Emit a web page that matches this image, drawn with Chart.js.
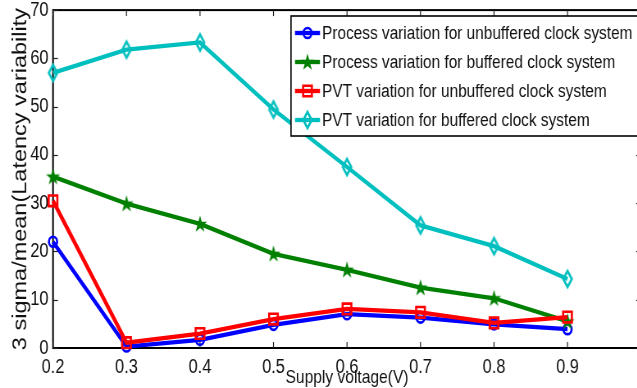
<!DOCTYPE html>
<html>
<head>
<meta charset="utf-8">
<title>Latency variability vs supply voltage</title>
<script src="https://cdn.jsdelivr.net/npm/chart.js@4.4.1/dist/chart.umd.min.js"></script>
<style>
  html, body { margin: 0; padding: 0; background: #fff; overflow: hidden; }
  #wrap { width: 637px; height: 388px; overflow: hidden; position: relative; }
  /* the figure is drawn on a wider canvas and condensed horizontally */
  #chart { display: block; transform: scaleX(0.82); transform-origin: 0 0; }
</style>
</head>
<body>
<div id="wrap"><canvas id="chart" width="800" height="388"></canvas></div>
<script>
// Supply voltage sweep (V)
const voltages = [0.2, 0.3, 0.4, 0.5, 0.6, 0.7, 0.8, 0.9];

// 3 sigma / mean of latency (%) for each configuration
const processUnbuffered = [22.0, 0.3, 1.7, 4.8, 7.0, 6.3, 4.9, 3.9];
const processBuffered   = [35.5, 29.9, 25.7, 19.5, 16.2, 12.5, 10.3, 5.5];
const pvtUnbuffered     = [30.5, 1.1, 3.0, 6.0, 8.1, 7.4, 5.2, 6.4];
const pvtBuffered       = [57.0, 61.8, 63.3, 49.4, 37.5, 25.4, 21.1, 14.3];

const seriesNames = [
  'Process variation for unbuffered clock system',
  'Process variation for buffered clock system',
  'PVT variation for unbuffered clock system',
  'PVT variation for buffered clock system'
];

// Axis ticks
const xTickValues = [0.2, 0.3, 0.4, 0.5, 0.6, 0.7, 0.8, 0.9, 1.0];
const xTickLabels = ['0.2', '0.3', '0.4', '0.5', '0.6', '0.7', '0.8', '0.9', ''];
const yTickValues = [0, 10, 20, 30, 40, 50, 60, 70];

const SQUEEZE = 0.82;            // horizontal condensing applied by CSS
const CANVAS_W = 800;
const FONT = '"Liberation Sans", Arial, Helvetica, sans-serif';

// Marker glyphs
function starMark(color) {
  const c = document.createElement('canvas');
  c.width = 20; c.height = 20;
  const g = c.getContext('2d');
  g.fillStyle = color;
  g.beginPath();
  for (let i = 0; i < 10; i++) {
    const r = i % 2 ? 3.5 : 9;
    const a = -Math.PI / 2 + i * Math.PI / 5;
    g.lineTo(10 + r * Math.cos(a), 10.5 + r * Math.sin(a));
  }
  g.closePath();
  g.fill();
  return c;
}
function diamondMark(color) {
  const c = document.createElement('canvas');
  c.width = 16; c.height = 22;
  const g = c.getContext('2d');
  g.strokeStyle = color;
  g.lineWidth = 2.6;
  g.beginPath();
  g.moveTo(8, 3); g.lineTo(13.2, 11); g.lineTo(8, 19); g.lineTo(2.8, 11);
  g.closePath();
  g.stroke();
  return c;
}

const toPoints = arr => arr.map((v, i) => ({ x: voltages[i], y: v }));

const BLUE = '#0000ff', GREEN = '#008000', RED = '#ff0000', CYAN = '#00bfbf';

const datasets = [
  { label: seriesNames[0], data: toPoints(processUnbuffered), borderColor: BLUE,
    pointStyle: 'circle', pointRadius: 5, pointBorderWidth: 2.6, order: 4 },
  { label: seriesNames[1], data: toPoints(processBuffered), borderColor: GREEN,
    pointStyle: starMark(GREEN), pointRadius: 9, pointBorderWidth: 0, order: 3 },
  { label: seriesNames[2], data: toPoints(pvtUnbuffered), borderColor: RED,
    pointStyle: 'rect', pointRadius: 7.5, pointBorderWidth: 2.6, order: 2 },
  { label: seriesNames[3], data: toPoints(pvtBuffered), borderColor: CYAN,
    pointStyle: diamondMark(CYAN), pointRadius: 9, pointBorderWidth: 0, order: 1 }
].map(d => Object.assign({
  borderWidth: 4.3,
  backgroundColor: 'rgba(0,0,0,0)',
  pointBackgroundColor: 'rgba(0,0,0,0)',
  pointBorderColor: d.borderColor,
  pointHoverRadius: d.pointRadius,
  tension: 0,
  clip: false
}, d));

// Box frame with inward tick marks on all four sides
const frameTicks = {
  id: 'frameTicks',
  beforeDatasetsDraw(chart) {
    const { ctx, chartArea: a, scales: { x, y } } = chart;
    ctx.save();
    ctx.strokeStyle = '#000';
    ctx.lineWidth = 2;
    ctx.strokeRect(a.left, a.top, a.right - a.left, a.bottom - a.top);
    ctx.lineWidth = 1.2;
    ctx.strokeStyle = '#222';
    const len = 6;
    const seg = (x1, y1, x2, y2) => { ctx.beginPath(); ctx.moveTo(x1, y1); ctx.lineTo(x2, y2); ctx.stroke(); };
    x.ticks.forEach(t => {
      const px = x.getPixelForValue(t.value);
      seg(px, a.bottom, px, a.bottom - len);
      seg(px, a.top, px, a.top + len);
    });
    y.ticks.forEach(t => {
      const py = Math.round(y.getPixelForValue(t.value)) + 0.5;
      seg(a.left, py, a.left + len, py);
      seg(a.right, py, a.right - len, py);
    });
    ctx.restore();
  }
};

// Legend box drawn inside the plot, upper right
const boxLegend = {
  id: 'boxLegend',
  afterDraw(chart) {
    const { ctx } = chart;
    const left = 291 / SQUEEZE, top = 16, bottom = 136, right = chart.width + 5;
    const rowY0 = 33, rowGap = 29;
    const lineX0 = 295 / SQUEEZE, lineX1 = 320 / SQUEEZE, textX = 322 / SQUEEZE;
    ctx.save();
    ctx.fillStyle = '#fff';
    ctx.fillRect(left, top, right - left, bottom - top);
    ctx.strokeStyle = '#000';
    ctx.lineWidth = 1.6;
    ctx.strokeRect(left, top, right - left, bottom - top);
    chart.data.datasets.forEach((ds, i) => {
      const yy = rowY0 + i * rowGap;
      ctx.strokeStyle = ds.borderColor;
      ctx.lineWidth = ds.borderWidth;
      ctx.beginPath();
      ctx.moveTo(lineX0, yy);
      ctx.lineTo(lineX1, yy);
      ctx.stroke();
      ctx.fillStyle = ds.pointBackgroundColor;
      ctx.strokeStyle = ds.pointBorderColor;
      ctx.lineWidth = ds.pointBorderWidth;
      Chart.helpers.drawPoint(ctx, {
        pointStyle: ds.pointStyle, radius: ds.pointRadius, rotation: 0,
        borderWidth: ds.pointBorderWidth
      }, (lineX0 + lineX1) / 2, yy);
      ctx.fillStyle = '#111';
      ctx.font = '18.8px ' + FONT;
      ctx.textBaseline = 'middle';
      ctx.textAlign = 'left';
      ctx.fillText(ds.label, textX, yy + 1);
    });
    ctx.restore();
  }
};

new Chart(document.getElementById('chart'), {
  type: 'line',
  data: { datasets },
  plugins: [frameTicks, boxLegend],
  options: {
    responsive: false,
    animation: false,
    events: [],
    layout: { padding: { left: 0, top: 10, right: CANVAS_W - 641 / SQUEEZE, bottom: 0 } },
    plugins: { legend: { display: false }, tooltip: { enabled: false } },
    scales: {
      x: {
        type: 'linear',
        min: 0.2, max: 1.0,
        afterBuildTicks: s => { s.ticks = xTickValues.map(v => ({ value: v })); },
        afterFit: s => { s.height = 40; s.paddingLeft = 0; s.paddingRight = 0; },
        border: { display: false },
        grid: { display: false, drawTicks: false },
        ticks: {
          padding: 7,
          color: '#111',
          font: { family: FONT, size: 20 },
          autoSkip: false,
          maxRotation: 0,
          callback: (v, i) => xTickLabels[i]
        },
        title: {
          display: true,
          text: 'Supply voltage(V)',
          color: '#111',
          font: { family: FONT, size: 19 },
          padding: { top: 0, bottom: -1 }
        }
      },
      y: {
        type: 'linear',
        min: 0, max: 70,
        afterBuildTicks: s => { s.ticks = yTickValues.map(v => ({ value: v })); },
        afterFit: s => { s.width = 53 / SQUEEZE; s.paddingTop = 0; s.paddingBottom = 0; },
        border: { display: false },
        grid: { display: false, drawTicks: false },
        ticks: {
          padding: 5.5,
          color: '#111',
          font: { family: FONT, size: 20 },
          callback: v => String(v)
        },
        title: {
          display: true,
          text: '3 sigma/mean(Latency variability',
          color: '#111',
          font: { family: FONT, size: 23.5 },
          padding: { top: 11, bottom: 0 }
        }
      }
    }
  }
});
</script>
</body>
</html>
